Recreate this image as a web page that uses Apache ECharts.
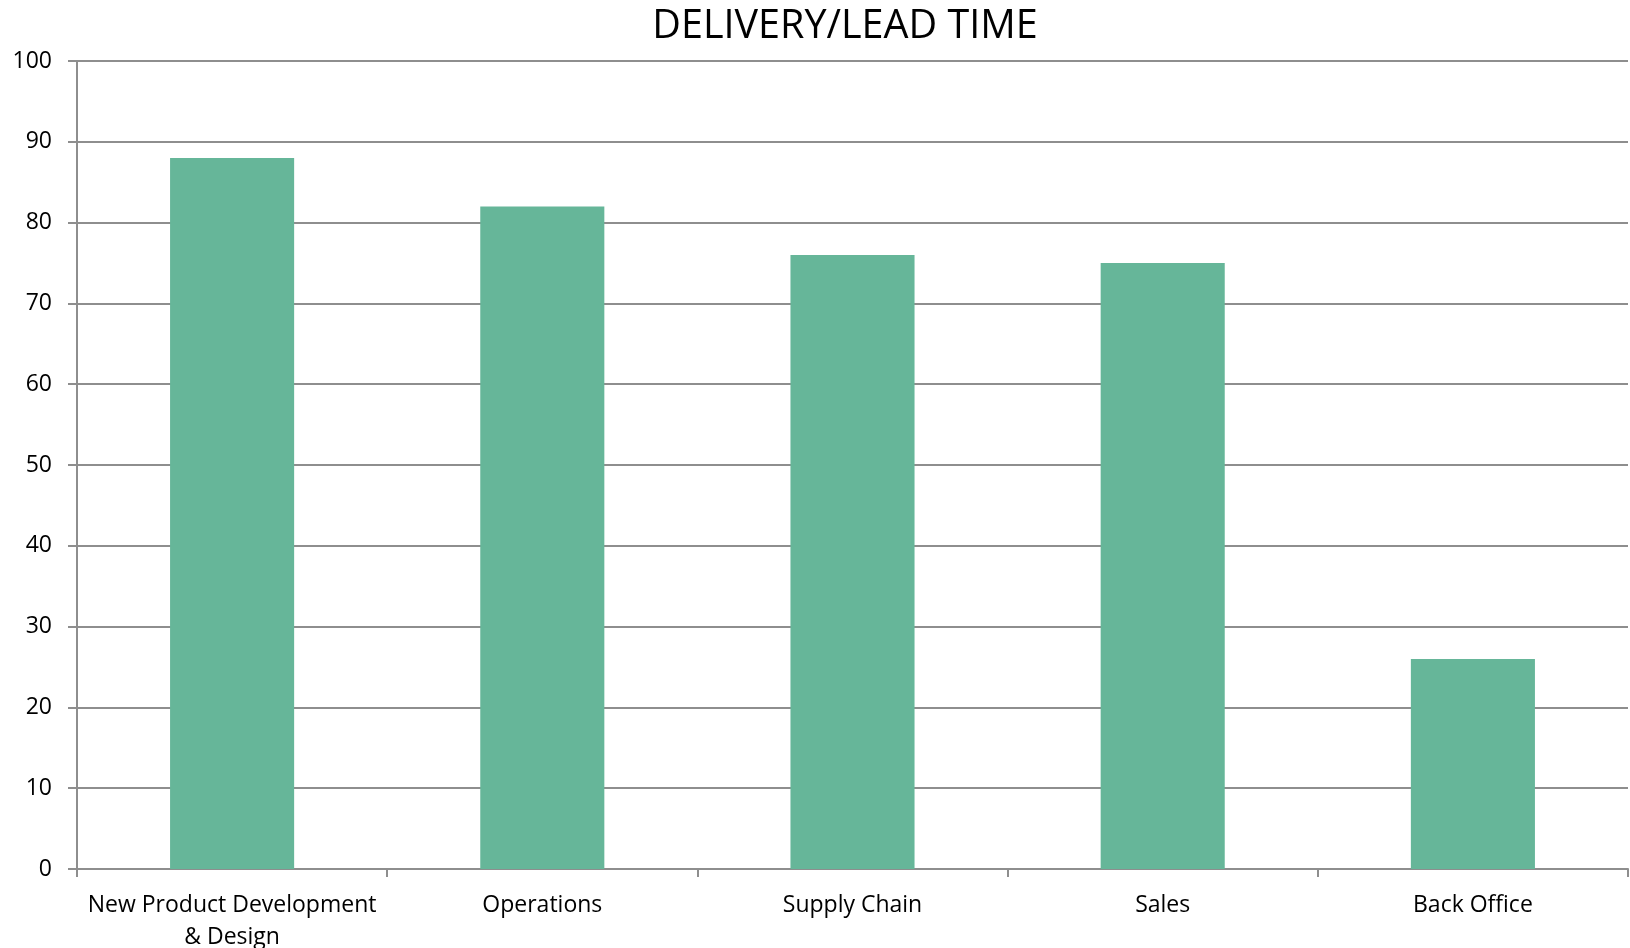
<!DOCTYPE html>
<html>
<head>
<meta charset="utf-8">
<style>
  html, body { margin: 0; padding: 0; background: #ffffff; }
  #chart { width: 1630px; height: 948px; }
</style>
<script src="https://cdn.jsdelivr.net/npm/echarts@6/dist/echarts.min.js"></script>
</head>
<body>
<div id="chart"></div>
<script>
// Lead-time scores by business area
const categories = ['New Product Development\n& Design', 'Operations', 'Supply Chain', 'Sales', 'Back Office'];
const leadTimeValues = [88, 82, 76, 75, 26];
const yTicks = { min: 0, max: 100, interval: 10 };

const FONT = '"Open Sans", "Noto Sans", sans-serif';
const GRID_GREY = '#8e8e8e';

const chart = echarts.init(document.getElementById('chart'), null, { renderer: 'canvas' });

chart.setOption({
  backgroundColor: '#ffffff',
  animation: false,
  title: {
    text: 'DELIVERY/LEAD TIME',
    left: 840,
    top: 2,
    textAlign: 'center',
    textStyle: { fontFamily: FONT, fontSize: 39.5, fontWeight: 'normal', color: '#000000' }
  },
  grid: { left: 77, right: 2, top: 61, bottom: 79, containLabel: false, outerBoundsMode: 'none' },
  xAxis: {
    type: 'category',
    data: categories,
    axisLine: { show: true, lineStyle: { color: GRID_GREY, width: 2 } },
    axisTick: { show: true, alignWithLabel: false, length: 8, lineStyle: { color: GRID_GREY, width: 2 } },
    axisLabel: {
      fontFamily: FONT, fontSize: 23, color: '#000000', margin: 20, lineHeight: 32, interval: 0
    },
    splitLine: { show: false }
  },
  yAxis: {
    type: 'value',
    min: yTicks.min,
    max: yTicks.max,
    interval: yTicks.interval,
    axisLine: { show: true, lineStyle: { color: GRID_GREY, width: 2 } },
    axisTick: { show: true, length: 9, lineStyle: { color: GRID_GREY, width: 2 } },
    axisLabel: { fontFamily: FONT, fontSize: 23, color: '#000000', margin: 25 },
    splitLine: { show: true, lineStyle: { color: GRID_GREY, width: 2 } }
  },
  series: [{
    type: 'bar',
    data: leadTimeValues,
    barWidth: '40%',
    itemStyle: { color: '#66b699' }
  }]
});
</script>
</body>
</html>
